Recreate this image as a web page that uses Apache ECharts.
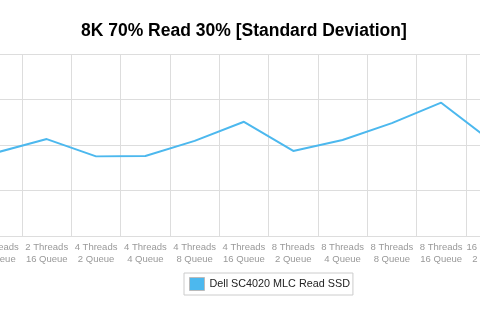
<!DOCTYPE html>
<html>
<head>
<meta charset="utf-8">
<script src="https://cdn.jsdelivr.net/npm/echarts@6/dist/echarts.min.js"></script>
<style>html,body{margin:0;padding:0;background:#fff;}#c{width:480px;height:326px;}</style>
</head>
<body>
<div id="c"></div>
<script>
var categories = [
  "2 Threads\n8 Queue", "2 Threads\n16 Queue",
  "4 Threads\n2 Queue", "4 Threads\n4 Queue", "4 Threads\n8 Queue", "4 Threads\n16 Queue",
  "8 Threads\n2 Queue", "8 Threads\n4 Queue", "8 Threads\n8 Queue", "8 Threads\n16 Queue",
  "16 Threads\n2 Queue"
];
var seriesName = "Dell SC4020 MLC Read SSD";
var values = [1.84, 2.13, 1.75, 1.76, 2.09, 2.51, 1.87, 2.11, 2.48, 2.93, 2.10];
var titleText = "8K 70% Read 30% [Standard Deviation]";

var chart = echarts.init(document.getElementById('c'), null, {renderer: 'canvas'});
chart.setOption({
  animation: false,
  backgroundColor: '#fff',
  title: {
    text: titleText, left: 81, top: 22, padding: 0,
    textStyle: {fontFamily: 'Liberation Sans, Arial, sans-serif', fontSize: 17.5, fontWeight: 'bold', color: '#000'}
  },
  legend: {
    data: [seriesName], left: 184, top: 273,
    borderColor: '#ccc', borderWidth: 1, padding: [4, 3, 4, 5],
    itemWidth: 15, itemHeight: 13, icon: 'rect',
    itemStyle: {color: '#4cb8ee', borderColor: '#bbb', borderWidth: 1},
    textStyle: {fontFamily: 'Liberation Sans, Arial, sans-serif', fontSize: 10.8, color: '#222'}
  },
  grid: {left: -27.2, width: 542.3, top: 54, bottom: 90, containLabel: false, outerBoundsMode: 'none'},
  xAxis: {
    type: 'category', data: categories, boundaryGap: true,
    axisLine: {show: true, lineStyle: {color: '#ddd', width: 1}},
    axisTick: {show: false},
    splitLine: {show: true, lineStyle: {color: '#ddd', width: 1}},
    axisLabel: {interval: 0, margin: 6, fontFamily: 'Liberation Sans, Arial, sans-serif', fontSize: 9.5, color: '#999', lineHeight: 11.5, hideOverlap: false}
  },
  yAxis: {
    type: 'value', min: 0, max: 4, interval: 1,
    axisLine: {show: false}, axisTick: {show: false}, axisLabel: {show: false},
    splitLine: {show: true, lineStyle: {color: '#ddd', width: 1}}
  },
  series: [{
    name: seriesName, type: 'line', data: values,
    symbol: 'none', smooth: false,
    lineStyle: {color: '#4cb8ee', width: 2},
    itemStyle: {color: '#4cb8ee'}
  }]
});
</script>
</body>
</html>
